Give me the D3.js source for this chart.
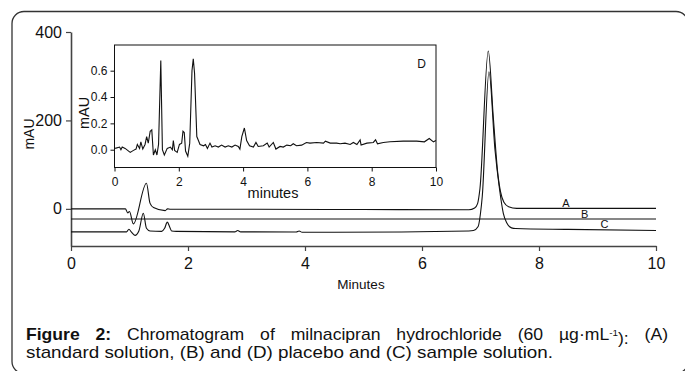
<!DOCTYPE html>
<html>
<head>
<meta charset="utf-8">
<script src="https://cdn.jsdelivr.net/npm/d3@7"></script>
<style>
  body { margin: 0; background: #fff; }
  text { font-family: "Liberation Sans", Arial, sans-serif; fill: #111; }
</style>
</head>
<body>
<div id="chart"></div>
<script>
// chromatogram traces, [minutes, mAU]
const traceA = [[0,0],[0.93,0],[0.97,-9],[1.0,-6],[1.065,-34],[1.29,58],[1.35,13],[1.41,3],[1.61,-4],[1.65,0],[1.7,-1],
  [3,-1],[5,-1.5],[6.8,-2],[6.9,2],[6.95,12],[6.99,45],[7.133,357],[7.22,205],[7.3,75],[7.34,40],[7.4,15],[7.48,5],[7.62,1],[10,1]];
const traceB = [[0,-23],[10,-23]];
const traceC = [[0,-52],[0.95,-52],[0.99,-46],[1.03,-52],[1.094,-60],[1.16,-50],[1.236,-10],[1.29,-44],[1.35,-50],[1.55,-51],
  [1.6,-44],[1.646,-30],[1.69,-42],[1.72,-50],[1.8,-51],[2.8,-52],[2.85,-49],[2.9,-52],[3.85,-52.5],[3.9,-50],[3.95,-53],
  [4.5,-53],[6.8,-50],[6.88,-49],[6.96,-40],[7.0,-10],[7.03,28],[7.145,310],[7.248,133],[7.32,50],[7.39,-10],[7.45,-32],
  [7.53,-43],[7.6,-44.5],[8.5,-46.5],[10,-49]];
// inset placebo trace (D), [minutes, mAU]
const traceD = [[0.02,0.01],[0.16,0.02],[0.2,0],[0.24,0.02],[0.33,0.01],[0.49,-0.02],[0.59,-0.005],[0.67,0.005],[0.71,0.04],
  [0.78,0.01],[0.82,0.06],[0.88,0.005],[0.95,0.04],[1.0,0.1],[1.05,0.05],[1.11,0.14],[1.16,0.15],[1.21,-0.04],[1.27,0],
  [1.32,-0.04],[1.37,0.04],[1.44,0.678],[1.49,0],[1.55,-0.04],[1.64,0.01],[1.74,0.02],[1.8,0],[1.83,0.07],[1.87,-0.005],
  [1.95,-0.02],[2.02,0.04],[2.09,0.05],[2.13,0.14],[2.17,0.13],[2.21,-0.01],[2.28,-0.05],[2.34,0.05],[2.41,0.6],[2.45,0.69],
  [2.49,0.58],[2.56,0.1],[2.61,0.07],[2.66,0.04],[2.77,0.03],[2.83,0.04],[2.89,0.01],[2.97,0.05],[3.03,0.02],[3.13,0.03],
  [3.23,0.02],[3.33,0.035],[3.44,0.02],[3.54,0.03],[3.65,0.02],[3.75,0.035],[3.85,0.025],[3.9,0.005],[3.96,0.1],[4.04,0.165],
  [4.11,0.07],[4.2,0.03],[4.32,0.02],[4.4,0.055],[4.47,0.025],[4.63,0.03],[4.75,0.05],[4.81,0.02],[4.94,0.055],[5.02,0.005],
  [5.15,0.025],[5.25,0.02],[5.36,0.035],[5.48,0.03],[5.56,0.045],[5.66,0.03],[5.82,0.035],[5.97,0.055],[6.08,0.05],
  [6.29,0.055],[6.5,0.05],[6.56,0.065],[6.71,0.05],[6.91,0.05],[7.02,0.045],[7.17,0.05],[7.33,0.04],[7.43,0.055],[7.54,0.04],
  [7.64,0.075],[7.67,0.035],[7.85,0.05],[8.05,0.055],[8.12,0.075],[8.18,0.045],[8.36,0.055],[8.57,0.06],[8.98,0.065],
  [9.4,0.065],[9.64,0.06],[9.79,0.085],[9.92,0.06],[10,0.07]];

const mainTicksX = [0, 2, 4, 6, 8, 10];
const mainTicksY = [0, 200, 400];
const insetTicksX = [0, 2, 4, 6, 8, 10];
const insetTicksY = [0, 0.2, 0.4, 0.6];
const traceNames = ['A', 'B', 'C'];
const labelTimes = [8.46, 8.78, 9.12];
const labelLevels = [1, -23, -46.5];

const caption1 = ['Chromatogram', 'of', 'milnacipran', 'hydrochloride', '(60'];
const caption2 = 'standard solution, (B) and (D) placebo and (C) sample solution.';

const width = 685, height = 371;

const svg = d3.select('#chart').append('svg')
  .attr('width', width)
  .attr('height', height);

// rounded frame, clipped by the picture edges
svg.append('rect')
  .attr('x', 12).attr('y', 11.5)
  .attr('width', 676).attr('height', 362)
  .attr('rx', 12)
  .attr('fill', 'none')
  .attr('stroke', '#333')
  .attr('stroke-width', 1.3);

// main scales
const x = d3.scaleLinear().domain([0, 10]).range([71, 656]);
const y = d3.scaleLinear().domain([-84, 400]).range([246, 32]);

const xAxis = svg.append('g')
  .attr('transform', `translate(0,${y(-84)})`)
  .call(d3.axisBottom(x).tickValues(mainTicksX).tickSize(5).tickSizeOuter(0).tickPadding(7));
const yAxis = svg.append('g')
  .attr('transform', `translate(${x(0)},0)`)
  .call(d3.axisLeft(y).tickValues(mainTicksY).tickSize(5).tickSizeOuter(0).tickPadding(4));

[xAxis, yAxis].forEach(ax => {
  ax.selectAll('.domain').attr('stroke', '#444').attr('stroke-width', 1.6);
  ax.selectAll('.tick line').attr('stroke', '#444').attr('stroke-width', 1.2);
  ax.selectAll('text')
    .style('font-size', '16px')
    .style('font-family', '"Liberation Sans", Arial, sans-serif')
    .attr('fill', '#111');
});

// axis titles
svg.append('text')
  .attr('transform', 'translate(34,134) rotate(-90)')
  .attr('text-anchor', 'middle')
  .style('font-size', '14px')
  .text('mAU');
svg.append('text')
  .attr('x', 361).attr('y', 289)
  .attr('text-anchor', 'middle')
  .style('font-size', '13.5px')
  .text('Minutes');

// traces
const line = d3.line()
  .x(d => x(d[0]))
  .y(d => y(d[1]))
  .curve(d3.curveMonotoneX);

[traceA, traceB, traceC].forEach(tr => {
  svg.append('path')
    .datum(tr)
    .attr('fill', 'none')
    .attr('stroke', '#111')
    .attr('stroke-width', 1.1)
    .attr('d', line);
});

svg.selectAll('text.trace-label')
  .data(traceNames)
  .enter()
  .append('text')
  .attr('class', 'trace-label')
  .attr('x', (d, i) => x(labelTimes[i]))
  .attr('y', (d, i) => y(labelLevels[i]) - 1)
  .attr('text-anchor', 'middle')
  .style('font-size', '11px')
  .text(d => d);

// inset
const ix = d3.scaleLinear().domain([0, 10]).range([114.5, 436]);
const iy = d3.scaleLinear().domain([-0.135, 0.795]).range([167.5, 45]);

svg.append('rect')
  .attr('x', ix(0)).attr('y', iy(0.795))
  .attr('width', ix(10) - ix(0)).attr('height', iy(-0.135) - iy(0.795))
  .attr('fill', '#fff')
  .attr('stroke', '#111')
  .attr('stroke-width', 1);

const ixAxis = svg.append('g')
  .attr('transform', `translate(0,${iy(-0.135)})`)
  .call(d3.axisBottom(ix).tickValues(insetTicksX).tickSize(4).tickSizeOuter(0).tickPadding(6));
const iyAxis = svg.append('g')
  .attr('transform', `translate(${ix(0)},0)`)
  .call(d3.axisLeft(iy).tickValues(insetTicksY).tickFormat(d3.format('.1f')).tickSize(4).tickSizeOuter(0).tickPadding(3));

[ixAxis, iyAxis].forEach(ax => {
  ax.selectAll('.domain').style('display', 'none');
  ax.selectAll('.tick line').attr('stroke', '#111');
  ax.selectAll('text')
    .style('font-size', '12px')
    .style('font-family', '"Liberation Sans", Arial, sans-serif')
    .attr('fill', '#111');
});

svg.append('path')
  .datum(traceD)
  .attr('fill', 'none')
  .attr('stroke', '#111')
  .attr('stroke-width', 1.1)
  .attr('d', d3.line().x(d => ix(d[0])).y(d => iy(d[1])));

svg.append('text')
  .attr('transform', 'translate(89,113) rotate(-90)')
  .attr('text-anchor', 'middle')
  .style('font-size', '14.5px')
  .text('mAU');
svg.append('text')
  .attr('x', 273).attr('y', 198)
  .attr('text-anchor', 'middle')
  .style('font-size', '14.5px')
  .text('minutes');
svg.append('text')
  .attr('x', 421.5).attr('y', 67.5)
  .attr('text-anchor', 'middle')
  .style('font-size', '12px')
  .text('D');

// caption, first line justified word by word, glyphs widened a little
const capLeft = 26, capRight = 668, capY1 = 340.5, capY2 = 358.5, capSize = '16px', capStretch = 1.1;
const capG = svg.append('g')
  .attr('transform', `translate(${capLeft},0) scale(${capStretch},1)`);
const words = [];
const w0 = capG.append('text').attr('y', capY1).style('font-size', capSize).style('font-weight', 'bold');
w0.text('Figure');
words.push(w0);
const w1 = capG.append('text').attr('y', capY1).style('font-size', capSize).style('font-weight', 'bold');
w1.text('2:');
words.push(w1);
caption1.forEach(t => {
  words.push(capG.append('text').attr('y', capY1).style('font-size', capSize).text(t));
});
const unit = capG.append('text').attr('y', capY1).style('font-size', capSize);
unit.append('tspan').text('\u00b5g\u00b7mL');
unit.append('tspan').attr('dy', '-0.45em').style('font-size', '9px').text('-1');
unit.append('tspan').attr('dy', '0.45em').text('):');
words.push(unit);
words.push(capG.append('text').attr('y', capY1).style('font-size', capSize).text('(A)'));

const lineWidth = (capRight - capLeft) / capStretch;
const widths = words.map(w => w.node().getComputedTextLength());
const gap = (lineWidth - d3.sum(widths)) / (words.length - 1);
let cx = 0;
words.forEach((w, i) => {
  w.attr('x', cx);
  cx += widths[i] + gap;
});

capG.append('text')
  .attr('x', 0).attr('y', capY2)
  .attr('textLength', 527 / capStretch)
  .attr('lengthAdjust', 'spacingAndGlyphs')
  .style('font-size', capSize)
  .text(caption2);
</script>
</body>
</html>
